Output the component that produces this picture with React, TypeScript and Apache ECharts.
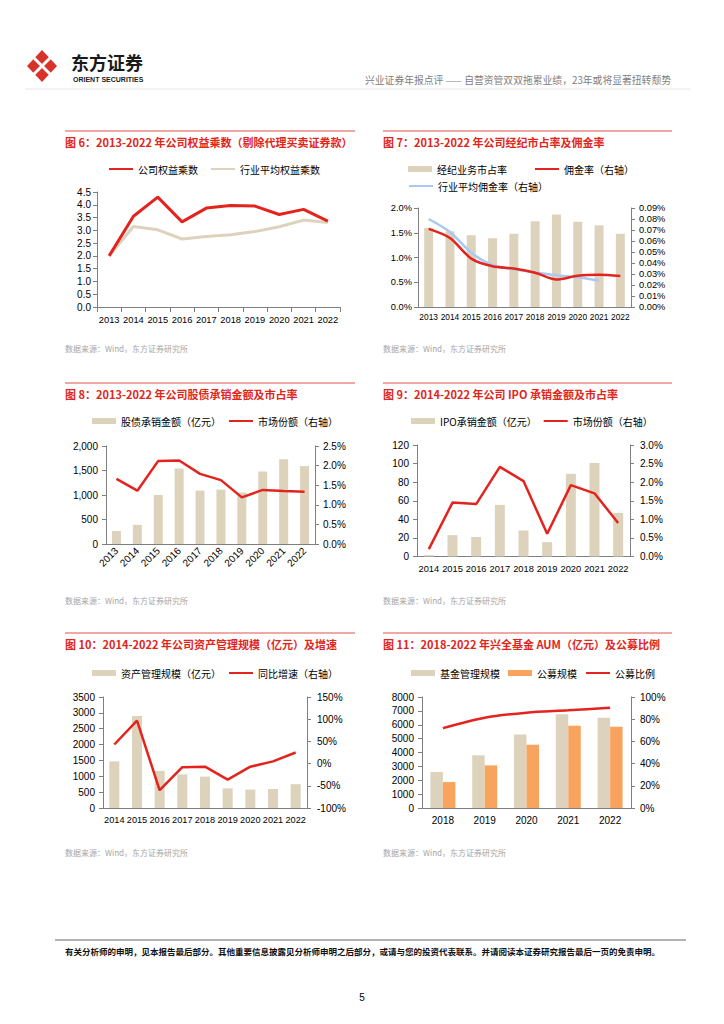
import React, { useEffect, useRef } from 'react';
import * as echarts from 'echarts';

const FONT = '"Liberation Sans", "Noto Sans CJK SC", sans-serif';
const CJK = '"Noto Sans CJK SC", sans-serif';
const RED = '#E3241E';
const BEIGE = '#DDD3BD';
const ORANGE = '#F8A45E';
const BLUE = '#A9C9F2';
const AXIS = '#7f7f7f';
const TITLE_RED = '#E1251B';

// ---- 图6 ----
const years13 = ['2013', '2014', '2015', '2016', '2017', '2018', '2019', '2020', '2021', '2022'];
const equityCompany = [2.0, 3.55, 4.3, 3.33, 3.87, 3.97, 3.95, 3.62, 3.82, 3.36];
const equityIndustry = [2.0, 3.15, 3.02, 2.66, 2.76, 2.83, 2.95, 3.14, 3.4, 3.31];

// ---- 图7 ----
const brokerShare = [1.6, 1.53, 1.45, 1.39, 1.48, 1.73, 1.87, 1.72, 1.65, 1.48];
const commissionRate = [0.071, 0.0627, 0.044, 0.037, 0.035, 0.0312, 0.025, 0.0285, 0.0294, 0.0282];
const industryCommission = [0.08, 0.0682, 0.0494, 0.038, 0.0343, 0.0313, 0.0288, 0.027, 0.024, null];

// ---- 图8 ----
const underwriting = [265, 390, 1000, 1540, 1090, 1110, 1050, 1480, 1730, 1590];
const underwritingShare = [1.66, 1.36, 2.12, 2.13, 1.79, 1.63, 1.19, 1.38, 1.35, 1.33];

// ---- 图9 ----
const years14 = ['2014', '2015', '2016', '2017', '2018', '2019', '2020', '2021', '2022'];
const ipoAmount = [1.5, 23, 21, 55.5, 28, 15.5, 89, 100.5, 47];
const ipoShare = [0.2, 1.45, 1.41, 2.41, 2.03, 0.61, 1.92, 1.7, 0.9];

// ---- 图10 ----
const amScale = [1470, 2900, 1170, 1060, 990, 620, 580, 600, 750];
const amGrowth = [43, 97, -60, -8, -7, -36, -7, 5, 25];

// ---- 图11 ----
const years18 = ['2018', '2019', '2020', '2021', '2022'];
const fundAUM = [2600, 3800, 5300, 6750, 6500];
const publicAUM = [1870, 3070, 4560, 5930, 5860];
const publicRatio = [72, 81.4, 85.9, 88, 90.4];

// ---- texts ----
const titles = [
  '图 6：2013-2022 年公司权益乘数（剔除代理买卖证券款）',
  '图 7：2013-2022 年公司经纪市占率及佣金率',
  '图 8：2013-2022 年公司股债承销金额及市占率',
  '图 9：2014-2022 年公司 IPO 承销金额及市占率',
  '图 10：2014-2022 年公司资产管理规模（亿元）及增速',
  '图 11：2018-2022 年兴全基金 AUM（亿元）及公募比例',
];
const sourceText = '数据来源：Wind，东方证券研究所';
const headerText = '兴业证券年报点评 —— 自营资管双双拖累业绩，23年或将显著扭转颓势';
const disclaimer =
  '有关分析师的申明，见本报告最后部分。其他重要信息披露见分析师申明之后部分，或请与您的投资代表联系。并请阅读本证券研究报告最后一页的免责申明。';

function xAxis(gridIndex: number, data: string[], margin: number, fontSize: number, extra: any = {}) {
  return {
    type: 'category',
    gridIndex,
    data,
    boundaryGap: true,
    axisLine: { show: true, lineStyle: { color: AXIS, width: 1 } },
    axisTick: { show: false },
    axisLabel: { fontSize, color: '#000', fontFamily: FONT, margin, interval: 0 },
    splitLine: { show: false },
    ...extra,
  };
}

function yAxis(
  gridIndex: number,
  position: string,
  min: number,
  max: number,
  interval: number,
  formatter: (v: number) => string,
  margin: number,
  fontSize: number
) {
  return {
    type: 'value',
    gridIndex,
    position,
    min,
    max,
    interval,
    axisLine: { show: true, lineStyle: { color: AXIS, width: 1 } },
    axisTick: { show: true, length: 4, lineStyle: { color: AXIS } },
    axisLabel: { formatter, margin, fontSize, color: '#000', fontFamily: FONT },
    splitLine: { show: false },
  };
}

function legend(left: number, top: number, data: any[], itemGap: number) {
  return {
    left,
    top,
    data,
    itemWidth: 24,
    itemHeight: 6,
    itemGap,
    padding: 0,
    selectedMode: false,
    textStyle: { fontSize: 10, color: '#000', fontFamily: CJK },
  };
}

// legend entry for a line series: hide the default circle marker
const lineItem = (name: string) => ({ name, itemStyle: { opacity: 0 } });
const barItem = (name: string) => ({ name, icon: 'rect' });

function txt(text: string, x: number, y: number, size: number, fill: string, opts: any = {}) {
  const align = opts.align || 'left';
  return {
    type: 'text',
    x,
    y,
    silent: true,
    style: {
      text,
      fill,
      fontSize: size,
      fontFamily: opts.font || CJK,
      fontWeight: opts.weight || 'normal',
      textAlign: align,
      align,
      textVerticalAlign: 'middle',
      verticalAlign: 'middle',
    },
  };
}

function hline(x1: number, x2: number, y: number, color: string, w = 1) {
  return {
    type: 'line',
    silent: true,
    shape: { x1, y1: y, x2, y2: y },
    style: { stroke: color, lineWidth: w },
  };
}

const pct1 = (v: number) => v.toFixed(1) + '%';
const pct2 = (v: number) => v.toFixed(2) + '%';
const pct0 = (v: number) => Math.round(v) + '%';

export default function App() {
  const ref = useRef<HTMLDivElement>(null);

  useEffect(() => {
    if (!ref.current) return;
    const chart = echarts.init(ref.current, undefined, { renderer: 'svg' });

    const colL = 65;
    const colR = 383;
    const rowTop = [131, 383, 633];
    const srcY = [348, 600, 852];

    const graphic: any[] = [];
    // header logo
    graphic.push({
      type: 'polygon',
      silent: true,
      shape: { points: [[42, 50], [57, 66], [42, 82], [27, 66]] },
      style: { fill: '#D8332A' },
    });
    graphic.push({
      type: 'line',
      silent: true,
      shape: { x1: 33, y1: 57, x2: 51, y2: 75 },
      style: { stroke: '#fff', lineWidth: 3 },
    });
    graphic.push({
      type: 'line',
      silent: true,
      shape: { x1: 51, y1: 57, x2: 33, y2: 75 },
      style: { stroke: '#fff', lineWidth: 3 },
    });
    graphic.push(txt('东方证券', 71, 62, 18, '#1a1a1a', { weight: 'bold' }));
    graphic.push(txt('ORIENT SECURITIES', 73, 79.5, 7, '#1a1a1a', { weight: 'bold', font: FONT }));
    graphic.push(txt(headerText, 671, 80, 9.8, '#808080', { align: 'right' }));
    graphic.push(hline(25, 690, 89, '#e6e6e6'));

    // panel titles, lines, sources
    for (let r = 0; r < 3; r++) {
      graphic.push(hline(colL, 355, rowTop[r], '#E4534B'));
      graphic.push(hline(colR, 672, rowTop[r], '#E4534B'));
      graphic.push(txt(titles[r * 2], colL, rowTop[r] + 11, 11, TITLE_RED, { weight: 'bold' }));
      graphic.push(txt(titles[r * 2 + 1], colR, rowTop[r] + 11, 11, TITLE_RED, { weight: 'bold' }));
      graphic.push(txt(sourceText, colL, srcY[r], 8, '#a6a6a6'));
      graphic.push(txt(sourceText, colR, srcY[r], 8, '#a6a6a6'));
    }

    // footer
    graphic.push(hline(55, 686, 940, '#666666'));
    graphic.push(txt(disclaimer, 65, 951, 8.5, '#111', { weight: 'bold' }));
    graphic.push(txt('5', 362, 997, 10, '#000', { align: 'center', font: FONT }));

    const option: any = {
      animation: false,
      backgroundColor: '#ffffff',
      textStyle: { fontFamily: FONT },
      grid: [
        { left: 97, top: 192, width: 243, height: 115 },
        { left: 418, top: 208, width: 213, height: 99 },
        { left: 106, top: 446, width: 209, height: 98 },
        { left: 417, top: 445, width: 213, height: 111.5 },
        { left: 103, top: 697, width: 204, height: 111 },
        { left: 422, top: 697, width: 209, height: 111 },
      ],
      xAxis: [
        xAxis(0, years13, 8, 9.3, {
          axisTick: { show: true, length: 5, interval: 0, lineStyle: { color: AXIS } },
        }),
        xAxis(1, years13, 6, 8.4),
        xAxis(2, years13, 5, 10, {
          axisLabel: { fontSize: 10, color: '#000', fontFamily: FONT, margin: 5, interval: 0, rotate: 45 },
        }),
        xAxis(3, years14, 8, 9.3),
        xAxis(4, years14, 7, 9.2),
        xAxis(5, years18, 7, 10),
      ],
      yAxis: [
        yAxis(0, 'left', 0, 4.5, 0.5, (v) => v.toFixed(1), 6, 10),
        yAxis(1, 'left', 0, 2, 0.5, pct1, 6, 9.3),
        yAxis(1, 'right', 0, 0.09, 0.01, pct2, 8, 9.3),
        yAxis(2, 'left', 0, 2000, 500, (v) => v.toLocaleString('en-US'), 8, 10),
        yAxis(2, 'right', 0, 2.5, 0.5, pct1, 8, 10),
        yAxis(3, 'left', 0, 120, 20, (v) => String(v), 8, 10),
        yAxis(3, 'right', 0, 3, 0.5, pct1, 10, 10),
        yAxis(4, 'left', 0, 3500, 500, (v) => String(v), 8, 10),
        yAxis(4, 'right', -100, 150, 50, pct0, 10, 10),
        yAxis(5, 'left', 0, 8000, 1000, (v) => String(v), 8, 10),
        yAxis(5, 'right', 0, 100, 20, pct0, 9, 10),
      ],
      legend: [
        legend(108, 164, [lineItem('公司权益乘数'), lineItem('行业平均权益乘数')], 12),
        legend(408, 164, [barItem('经纪业务市占率'), lineItem('佣金率（右轴）')], 27),
        legend(408, 181, [lineItem('行业平均佣金率（右轴）')], 10),
        legend(92, 416, [barItem('股债承销金额（亿元）'), lineItem('市场份额（右轴）')], 7),
        legend(411, 416, [barItem('IPO承销金额（亿元）'), lineItem('市场份额（右轴）')], 6),
        legend(92, 668, [barItem('资产管理规模（亿元）'), lineItem('同比增速（右轴）')], 7),
        legend(411, 668, [barItem('基金管理规模'), barItem('公募规模'), lineItem('公募比例')], 8),
      ],
      series: [
        // 图6
        {
          type: 'line', name: '行业平均权益乘数', xAxisIndex: 0, yAxisIndex: 0,
          data: equityIndustry, symbol: 'none', lineStyle: { color: BEIGE, width: 3 }, itemStyle: { color: BEIGE },
        },
        {
          type: 'line', name: '公司权益乘数', xAxisIndex: 0, yAxisIndex: 0,
          data: equityCompany, symbol: 'none', lineStyle: { color: RED, width: 3 }, itemStyle: { color: RED },
        },
        // 图7
        {
          type: 'bar', name: '经纪业务市占率', xAxisIndex: 1, yAxisIndex: 1,
          data: brokerShare, barWidth: 9, itemStyle: { color: BEIGE },
        },
        {
          type: 'line', name: '行业平均佣金率（右轴）', xAxisIndex: 1, yAxisIndex: 2,
          data: industryCommission, symbol: 'none', smooth: 0.3,
          lineStyle: { color: BLUE, width: 2.5 }, itemStyle: { color: BLUE },
        },
        {
          type: 'line', name: '佣金率（右轴）', xAxisIndex: 1, yAxisIndex: 2,
          data: commissionRate, symbol: 'none', smooth: 0.3,
          lineStyle: { color: RED, width: 2.5 }, itemStyle: { color: RED },
        },
        // 图8
        {
          type: 'bar', name: '股债承销金额（亿元）', xAxisIndex: 2, yAxisIndex: 3,
          data: underwriting, barWidth: 9, itemStyle: { color: BEIGE },
        },
        {
          type: 'line', name: '市场份额（右轴）', xAxisIndex: 2, yAxisIndex: 4,
          data: underwritingShare, symbol: 'none', lineStyle: { color: RED, width: 2.5 }, itemStyle: { color: RED },
        },
        // 图9
        {
          type: 'bar', name: 'IPO承销金额（亿元）', xAxisIndex: 3, yAxisIndex: 5,
          data: ipoAmount, barWidth: 10, itemStyle: { color: BEIGE },
        },
        {
          type: 'line', name: '市场份额（右轴）', xAxisIndex: 3, yAxisIndex: 6,
          data: ipoShare, symbol: 'none', lineStyle: { color: RED, width: 2.5 }, itemStyle: { color: RED },
        },
        // 图10
        {
          type: 'bar', name: '资产管理规模（亿元）', xAxisIndex: 4, yAxisIndex: 7,
          data: amScale, barWidth: 10, itemStyle: { color: BEIGE },
        },
        {
          type: 'line', name: '同比增速（右轴）', xAxisIndex: 4, yAxisIndex: 8,
          data: amGrowth, symbol: 'none', lineStyle: { color: RED, width: 2.5 }, itemStyle: { color: RED },
        },
        // 图11
        {
          type: 'bar', name: '基金管理规模', xAxisIndex: 5, yAxisIndex: 9,
          data: fundAUM, barWidth: 12.5, barGap: '0%', itemStyle: { color: BEIGE },
        },
        {
          type: 'bar', name: '公募规模', xAxisIndex: 5, yAxisIndex: 9,
          data: publicAUM, barWidth: 12.5, barGap: '0%', itemStyle: { color: ORANGE },
        },
        {
          type: 'line', name: '公募比例', xAxisIndex: 5, yAxisIndex: 10,
          data: publicRatio, symbol: 'none', smooth: 0.3,
          lineStyle: { color: RED, width: 2.5 }, itemStyle: { color: RED },
        },
      ],
      graphic,
    };

    chart.setOption(option);
    return () => {
      chart.dispose();
    };
  }, []);

  return (
    <div
      ref={ref}
      style={{ position: 'absolute', left: 0, top: 0, width: 724, height: 1024, background: '#fff' }}
    />
  );
}
